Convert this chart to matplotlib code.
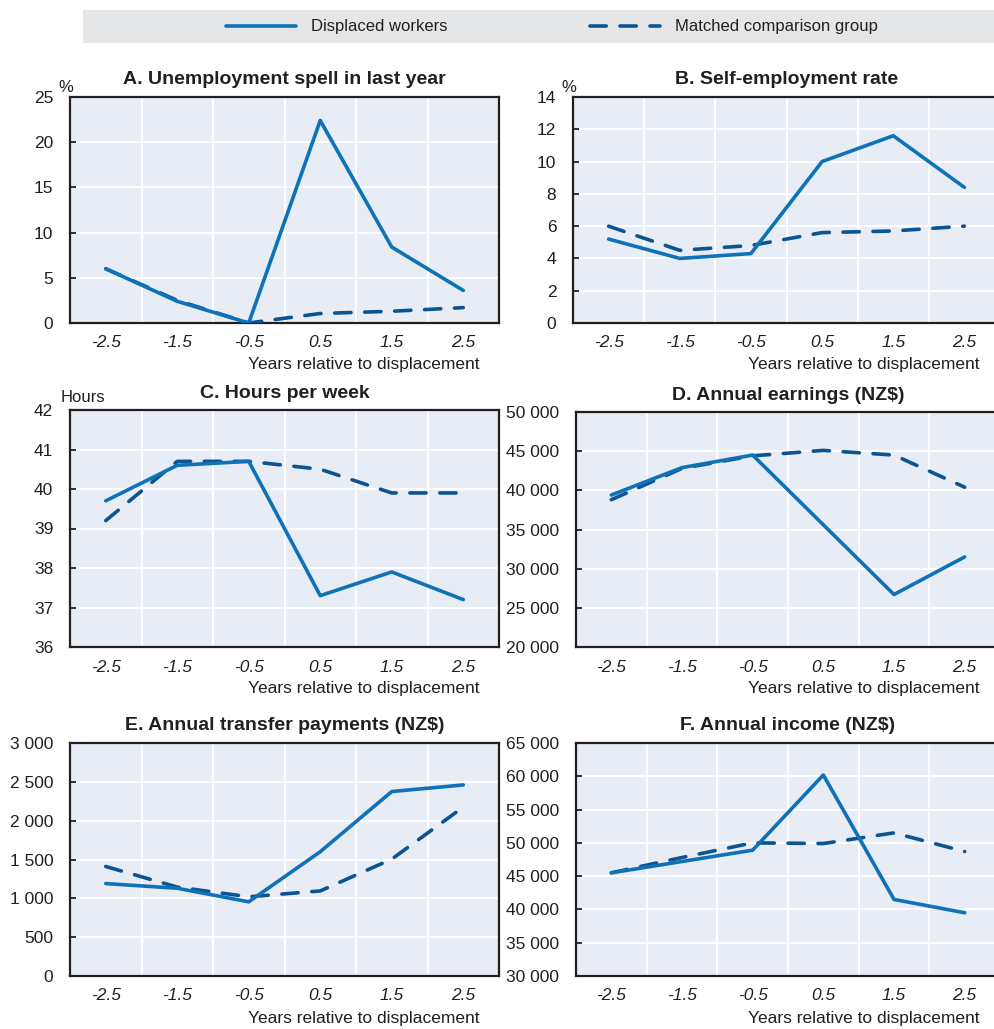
import matplotlib
matplotlib.use("Agg")
import matplotlib.pyplot as plt
from matplotlib.ticker import FuncFormatter, MultipleLocator
from matplotlib.lines import Line2D
from matplotlib.patches import Rectangle

plt.rcParams['font.family'] = ['Liberation Sans', 'DejaVu Sans']

# années relatives au licenciement
years = [-2.5, -1.5, -0.5, 0.5, 1.5, 2.5]
year_labels = ['-2.5', '-1.5', '-0.5', '0.5', '1.5', '2.5']

# A. Chômage dans l'année (%)
unemp_displaced = [6.0, 2.4, 0.0, 22.4, 8.4, 3.6]
unemp_matched = [6.0, 2.5, 0.0, 1.05, 1.3, 1.7]
# B. Taux d'emploi indépendant (%)
selfemp_displaced = [5.2, 4.0, 4.3, 10.0, 11.6, 8.4]
selfemp_matched = [6.0, 4.5, 4.8, 5.6, 5.7, 6.0]
# C. Heures par semaine
hours_displaced = [39.7, 40.6, 40.7, 37.3, 37.9, 37.2]
hours_matched = [39.2, 40.7, 40.7, 40.5, 39.9, 39.9]
# D. Revenus annuels (NZ$)
earn_displaced = [39400, 42900, 44500, 35600, 26700, 31500]
earn_matched = [38800, 42800, 44400, 45100, 44500, 40400]
# E. Transferts annuels (NZ$)
transf_displaced = [1190, 1130, 955, 1600, 2375, 2460]
transf_matched = [1410, 1145, 1020, 1095, 1505, 2175]
# F. Revenu annuel (NZ$)
income_displaced = [45500, 47200, 48900, 60200, 41500, 39500]
income_matched = [45500, 47800, 50000, 49900, 51500, 48700]

BLEU = '#0f72b9'
BLEU_FONCE = '#0b5491'
FOND = '#e8ecf5'
TEXTE = '#231f20'
W, H = 994, 1029
LW = 2.6


def fmt_milliers(v, pos):
    return f"{int(v):,}".replace(",", " ")


def panneau(box, titre, y1, y2, ylim, pas, unite=None, unite_pos=None):
    left, right, top, bottom = box
    ax = fig.add_axes([left / W, 1 - bottom / H, (right - left) / W, (bottom - top) / H])
    ax.set_facecolor(FOND)
    ax.plot(years, y2, color=BLEU_FONCE, lw=LW, dashes=(4.5, 3.8), dash_capstyle='round', zorder=3)
    ax.plot(years, y1, color=BLEU, lw=LW, solid_capstyle='round', zorder=4)
    ax.set_xlim(-3, 3)
    ax.set_ylim(*ylim)
    ax.yaxis.set_major_locator(MultipleLocator(pas))
    ax.yaxis.set_major_formatter(FuncFormatter(fmt_milliers))
    ax.set_xticks(years)
    ax.set_xticklabels(year_labels, fontstyle='italic')
    ax.set_xticks([-2, -1, 0, 1, 2], minor=True)
    ax.grid(True, which='minor', axis='x', color='white', lw=1.3)
    ax.grid(True, which='major', axis='y', color='white', lw=1.3)
    ax.set_axisbelow(True)
    ax.tick_params(axis='x', which='both', length=0, pad=9, labelsize=12.5, labelcolor=TEXTE)
    ax.tick_params(axis='y', direction='in', length=4, width=1.3, pad=12,
                   labelsize=12.5, labelcolor=TEXTE, color=TEXTE)
    for s in ax.spines.values():
        s.set_color(TEXTE)
        s.set_linewidth(1.6)
    ax.set_title(titre, fontsize=14, fontweight='bold', color=TEXTE, pad=9)
    ax.annotate('Years relative to displacement', xy=(1, 0), xycoords='axes fraction',
                xytext=(-20, -42), textcoords='offset pixels', ha='right', va='center',
                fontsize=12.5, color=TEXTE)
    if unite:
        ax.annotate(unite, xy=(0, 1), xycoords='axes fraction', xytext=unite_pos,
                    textcoords='offset pixels', ha='left', va='center',
                    fontsize=12, color=TEXTE)
    return ax


fig = plt.figure(figsize=(9.94, 10.29), dpi=100)

panneau((70, 499, 97, 323), 'A. Unemployment spell in last year',
        unemp_displaced, unemp_matched, (0, 25), 5, '%', (-12, 10))
panneau((573, 1000, 97, 323), 'B. Self-employment rate',
        selfemp_displaced, selfemp_matched, (0, 14), 2, '%', (-12, 10))
panneau((70, 499, 410, 647), 'C. Hours per week',
        hours_displaced, hours_matched, (36, 42), 1, 'Hours', (-9, 12))
panneau((576, 1000, 412, 647), 'D. Annual earnings (NZ$)',
        earn_displaced, earn_matched, (20000, 50000), 5000)
panneau((70, 499, 743, 976), 'E. Annual transfer payments (NZ$)',
        transf_displaced, transf_matched, (0, 3000), 500)
panneau((576, 1000, 743, 976), 'F. Annual income (NZ$)',
        income_displaced, income_matched, (30000, 65000), 5000)

# bandeau de légende
fig.patches.append(Rectangle((83 / W, 1 - 43 / H), (994 - 83) / W, 33 / H,
                             transform=fig.transFigure, facecolor='#e5e6e8',
                             edgecolor='none', zorder=0))
poignees = [Line2D([], [], color=BLEU, lw=LW, solid_capstyle='round'),
            Line2D([], [], color=BLEU_FONCE, lw=LW, dashes=(4.5, 3.8), dash_capstyle='round')]
fig.legend(poignees, ['Displaced workers', 'Matched comparison group'],
           loc='center', bbox_to_anchor=(552 / W, 1 - 27 / H), ncol=2, frameon=False,
           fontsize=12, handlelength=4.2, handletextpad=0.9, columnspacing=8.5,
           labelcolor=TEXTE)

fig.savefig('out.png', dpi=100)
